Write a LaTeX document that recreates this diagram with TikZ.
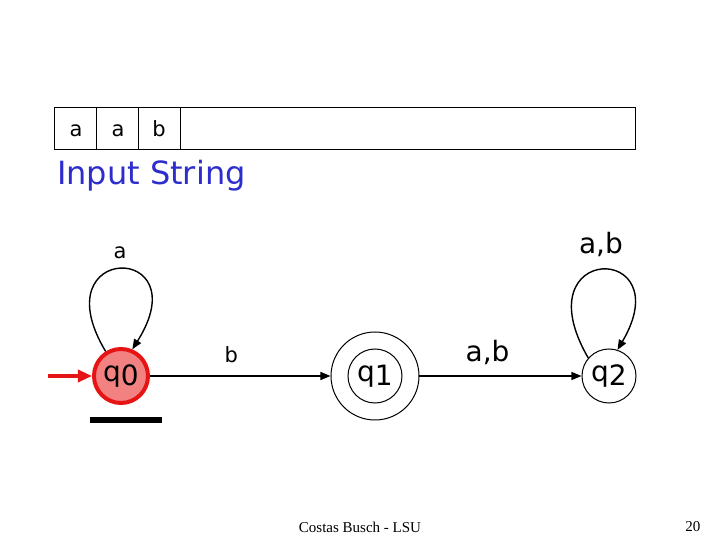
\documentclass[tikz,border=0pt]{standalone}
\usepackage{fontspec}
\setmainfont{Liberation Serif}
\newfontfamily\comic{DejaVu Sans}
\usetikzlibrary{arrows.meta}
\definecolor{qred}{RGB}{230,20,20}
\definecolor{qfill}{RGB}{242,130,130}
\definecolor{inblue}{RGB}{45,45,205}
\newcommand{\qst}[1]{q\raisebox{-0.25ex}{#1}}

\begin{document}
\begin{tikzpicture}[x=0.5pt,y=-0.5pt,
    state/.style={circle,draw,line width=0.5pt,minimum size=27pt,inner sep=0pt,
      font=\comic\fontsize{14}{14}\selectfont},
    sym/.style={font=\comic\fontsize{10.5}{10.5}\selectfont},
    lbl/.style={font=\comic\fontsize{14}{14}\selectfont},
    trans/.style={-{Triangle[length=5pt,width=4pt]},line width=0.7pt}]
    \useasboundingbox (0,0) rectangle (720,540);
    % tape
    \draw[line width=0.5pt] (55,108) rectangle (636,150);
    \foreach \x in {97,139,181} \draw[line width=0.5pt] (\x,108) -- (\x,150);
    \node[sym] (t1) at (76,131) {a};
    \node[sym] (t2) at (118,131) {a};
    \node[sym] (t3) at (159,129) {b};
    \node[anchor=west,inblue,font=\comic\fontsize{16}{16}\selectfont] (inp) at (50,176) {Input String};
    % states
    \node[state,fill=qfill,draw=qred,line width=2pt] (q0) at (121,376) {\qst{0}};
    \node[state,minimum size=27pt] (q1) at (375,376) {\qst{1}};
    \node[circle,draw,line width=0.5pt,minimum size=44pt,inner sep=0pt] (q1o) at (q1) {};
    \node[state] (q2) at (609,376) {\qst{2}};
    \coordinate (start) at (48,376);
    \draw[qred,line width=1.6pt,-{Triangle[length=7pt,width=6pt]}] (start) -- (q0);
    \draw[line width=2.6pt] (90,420) -- (162,420);
    % transitions
    \draw[trans] (q0) -- (q1o) node[pos=0.45,above=3pt,sym] (lb) {b};
    \draw[trans] (q1o) -- (q2) node[pos=0.42,above=2pt,lbl] (lab) {a,b};
    \draw[trans] (q0.122) .. controls (40,242) and (200,242) .. (q0.67);
    \node[sym] (la) at (120,253) {a};
    \draw[trans] (q2.139) .. controls (521,242) and (681,242) .. (q2.72);
    \node[lbl] (lab2) at (601,244) {a,b};
    % footer
    \node[font=\fontsize{7.5}{8}\selectfont] (foot) at (360,527) {Costas Busch - LSU};
    \node[font=\fontsize{7.5}{8}\selectfont] (page) at (693,527) {20};
\end{tikzpicture}
\end{document}
